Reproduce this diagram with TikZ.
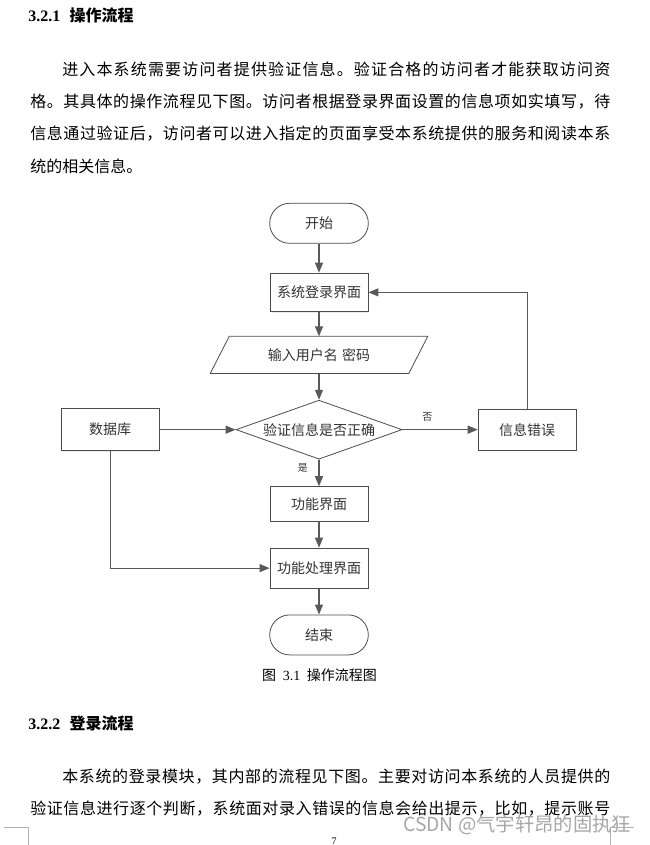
\documentclass[tikz,border=0pt]{standalone}
\usepackage{fontspec}
\setmainfont{Liberation Serif}
\newfontfamily\cjk{Noto Sans CJK SC}
\usetikzlibrary{positioning,shapes.geometric,arrows.meta,shadows}
% spread the characters of one line over a given width
\def\spreadtext#1{\spreadnext#1\relax}
\def\spreadnext#1{\ifx\relax#1\else#1\hfil\expandafter\spreadnext\fi}
\newcommand\justline[2]{\hbox to #1{\spreadtext{#2}\unskip}}

\begin{document}
\begin{tikzpicture}[
    x=0.75pt, y=-0.75pt,
    every node/.style={inner sep=0pt},
    box/.style={rectangle, draw=black!70, line width=0.6pt, fill=white, minimum width=73.5pt, text=black!80, font=\cjk\fontsize{10.5pt}{12pt}\selectfont, drop shadow={shadow xshift=0.9pt, shadow yshift=-0.9pt, fill=black!15}},
    term/.style={rectangle, rounded corners=15pt, draw=black!70, line width=0.6pt, fill=white, minimum width=74pt, minimum height=30pt, text=black!80, font=\cjk\fontsize{10.5pt}{12pt}\selectfont},
    decision/.style={diamond, draw=black!70, line width=0.6pt, fill=white, aspect=2.81, minimum width=124.5pt, minimum height=44.25pt, text=black!80, font=\cjk\fontsize{10.5pt}{12pt}\selectfont},
    line/.style={draw=black!65, line width=0.8pt, -{Triangle[length=7.5pt, width=6pt]}},
    lbl/.style={font=\cjk\fontsize{7.5pt}{9pt}\selectfont, text=black!80},
    head/.style={anchor=west, font=\bfseries\fontsize{12pt}{14pt}\selectfont},
    txt/.style={anchor=base west, font=\cjk\fontsize{12pt}{16pt}\selectfont},
    cropmark/.style={draw=black!30, line width=0.6pt}
]
\useasboundingbox (0,0) rectangle (649,845);

% Section text
\node[head] (h1) at (28,15) {3.2.1\hspace{7pt}{\cjk 操作流程}};
\node[txt] (p1a) at (62,76) {\justline{411pt}{进入本系统需要访问者提供验证信息。验证合格的访问者才能获取访问资}};
\node[txt] (p1b) at (30,108) {\justline{435pt}{格。其具体的操作流程见下图。访问者根据登录界面设置的信息项如实填写，待}};
\node[txt] (p1c) at (30,140) {\justline{435pt}{信息通过验证后，访问者可以进入指定的页面享受本系统提供的服务和阅读本系}};
\node[txt] (p1d) at (30,172) {统的相关信息。};

% Blocks
\node[term] (start) at (319,223.3) {开始};
\node[box, minimum height=28.9pt, below=21.75pt of start] (login) {系统登录界面};
\node[minimum width=148.5pt, minimum height=27.5pt, text=black!80, font=\cjk\fontsize{10.5pt}{12pt}\selectfont, below=18.2pt of login] (input) {输入用户名\hspace{0.3em}密码};
\node[decision, below=19.7pt of input] (check) {验证信息是否正确};
\node[box, minimum height=25.8pt, below=20pt of check] (func) {功能界面};
\node[box, minimum height=30pt, below=19.7pt of func] (proc) {功能处理界面};
\node[term, below=19.5pt of proc] (end) {结束};
\node[box, minimum height=31.3pt, left=57pt of check] (db) {数据库};
\node[box, minimum height=30.5pt, right=56.5pt of check] (error) {信息错误};

% Input slant
\draw[draw=black!70, line width=0.6pt] ([xshift=7.125pt]input.north west) -- ([xshift=7.125pt]input.north east) -- ([xshift=-7.125pt]input.south east) -- ([xshift=-7.125pt]input.south west) -- cycle;

% Main path
\draw[line] (start) -- (login);
\draw[line] (login) -- (input);
\draw[line] (input) -- (check);
\draw[line] (check) -- node[left=8pt, pos=0.3, lbl] {是} (func);
\draw[line] (func) -- (proc);
\draw[line] (proc) -- (end);

% Side paths
\draw[line] (db) -- (check);
\draw[line] (db) |- (proc);
\draw[line] (check) -- node[above=6pt, pos=0.33, lbl] {否} (error);
\draw[line] (error) |- (login);

\node (cap) at (319.5,675) {\fontsize{10.5pt}{12pt}\selectfont{\cjk 图}\hspace{5pt}3.1\hspace{5pt}{\cjk 操作流程图}};

% Next section
\node[head] (h2) at (28,723) {3.2.2\hspace{7pt}{\cjk 登录流程}};
\node[txt] (p2a) at (62,782) {\justline{411pt}{本系统的登录模块，其内部的流程见下图。主要对访问本系统的人员提供的}};
\node[txt] (p2b) at (30,814) {\justline{435pt}{验证信息进行逐个判断，系统面对录入错误的信息会给出提示，比如，提示账号}};

% Page marks
\draw[cropmark] (4,827.7) -- (28.3,827.7) -- (28.3,846);
\draw[cropmark] (610,846) -- (610,827.7) -- (634,827.7);
\node[anchor=south, font=\fontsize{7.5pt}{9pt}\selectfont] (pgno) at (334,844.5) {7};
\node[anchor=west, text=black!35, font=\cjk\fontsize{14.5pt}{16pt}\selectfont] (wm) at (403,825) {CSDN @气宇轩昂的固执狂};
\end{tikzpicture}
\end{document}
